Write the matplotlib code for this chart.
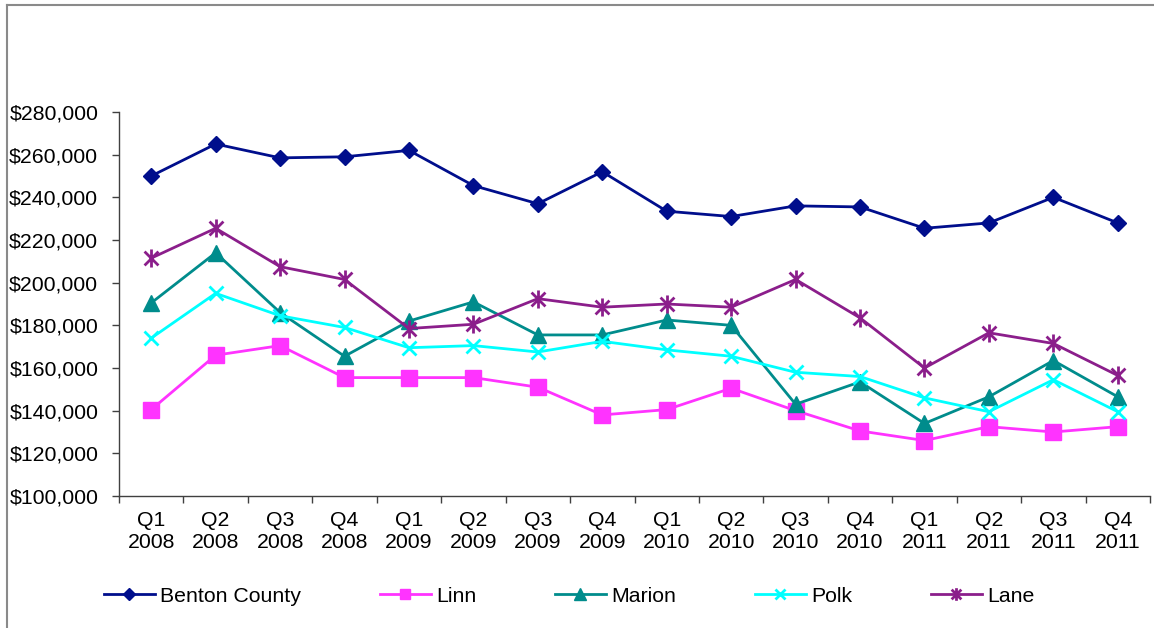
import matplotlib
matplotlib.use("Agg")
import matplotlib.pyplot as plt
from matplotlib.path import Path
from matplotlib.lines import Line2D
from matplotlib.ticker import FuncFormatter, FixedLocator
import numpy as np

# Quarterly median sale price by county
quarters = ["Q1\n2008", "Q2\n2008", "Q3\n2008", "Q4\n2008",
            "Q1\n2009", "Q2\n2009", "Q3\n2009", "Q4\n2009",
            "Q1\n2010", "Q2\n2010", "Q3\n2010", "Q4\n2010",
            "Q1\n2011", "Q2\n2011", "Q3\n2011", "Q4\n2011"]

benton = [250000, 265000, 258500, 259000, 262000, 245500, 237000, 252000,
          233500, 231000, 236000, 235500, 225500, 228000, 240000, 228000]
linn = [140500, 166000, 170500, 155500, 155500, 155500, 151000, 138000,
        140500, 150500, 140000, 130500, 126000, 132500, 130000, 132500]
marion = [190500, 214000, 186000, 165500, 182000, 191000, 175500, 175500,
          182500, 180000, 143000, 153500, 134000, 146500, 163500, 146500]
polk = [174000, 195000, 184500, 179000, 169500, 170500, 167500, 172500,
        168500, 165500, 158000, 156000, 146000, 139500, 154500, 139500]
lane = [211500, 225500, 207500, 201500, 178500, 180500, 192500, 188500,
        190000, 188500, 201500, 183500, 160000, 176500, 171500, 156500]

# x with a vertical stroke, like the spreadsheet "star" marker
star = Path([(-1, -1), (1, 1), (-1, 1), (1, -1), (0, -1.3), (0, 1.3)],
            [Path.MOVETO, Path.LINETO, Path.MOVETO, Path.LINETO,
             Path.MOVETO, Path.LINETO])

series = [
    ("Benton County", benton, "#000E8C", "D", 8.5, 1),
    ("Linn", linn, "#FF33FF", "s", 11, 1),
    ("Marion", marion, "#008C8C", "^", 11.5, 1),
    ("Polk", polk, "#00FFFF", "x", 10, 2),
    ("Lane", lane, "#8B1E8B", star, 13, 2),
]

plt.rcParams["font.family"] = ["Liberation Sans", "DejaVu Sans"]

fig = plt.figure(figsize=(11.54, 6.28), dpi=100)
ax = fig.add_axes([119 / 1154, 132 / 628, 1031 / 1154, 384 / 628])

x = np.arange(len(quarters))
for name, vals, col, mk, ms, mew in series:
    ax.plot(x, vals, color=col, lw=2.0, marker=mk, markersize=ms,
            markeredgewidth=mew, markerfacecolor=col, markeredgecolor=col,
            label=name)

ax.set_xlim(-0.5, len(quarters) - 0.5)
ax.set_ylim(100000, 280000)
ax.set_yticks(np.arange(100000, 280001, 20000))
ax.yaxis.set_major_formatter(FuncFormatter(lambda v, p: f"${v:,.0f}"))

# tick marks between categories, labels centred on them
ax.xaxis.set_major_locator(FixedLocator(np.arange(-0.5, len(quarters), 1.0)))
ax.xaxis.set_major_formatter(FuncFormatter(lambda v, p: ""))
ax.xaxis.set_minor_locator(FixedLocator(x))
ax.set_xticklabels(quarters, minor=True)
ax.tick_params(axis="x", which="major", direction="out", length=5, width=1, color="#404040")
ax.tick_params(axis="x", which="minor", length=0, pad=11, labelsize=15.3)
ax.tick_params(axis="y", direction="out", length=5, width=1, color="#404040",
               pad=10, labelsize=15.3)
for lbl in ax.get_xticklabels(minor=True):
    lbl.set_linespacing(1.15)

for s in ["top", "right"]:
    ax.spines[s].set_visible(False)
for s in ["left", "bottom"]:
    ax.spines[s].set_color("#404040")
    ax.spines[s].set_linewidth(1)

fig.legend(loc="center", bbox_to_anchor=(569 / 1154, 32 / 628), ncol=5,
           frameon=False, fontsize=15.3, handlelength=2.4, handletextpad=0.25,
           columnspacing=3.7, markerscale=0.7)

# outer chart border (top and left edges)
fig.add_artist(Line2D([7 / 1154, 1], [1 - 5 / 628, 1 - 5 / 628],
                      transform=fig.transFigure, color="#8a8a8a", lw=1.5))
fig.add_artist(Line2D([7 / 1154, 7 / 1154], [0, 1 - 5 / 628],
                      transform=fig.transFigure, color="#8a8a8a", lw=1.5))

fig.savefig("out.png", dpi=100)
